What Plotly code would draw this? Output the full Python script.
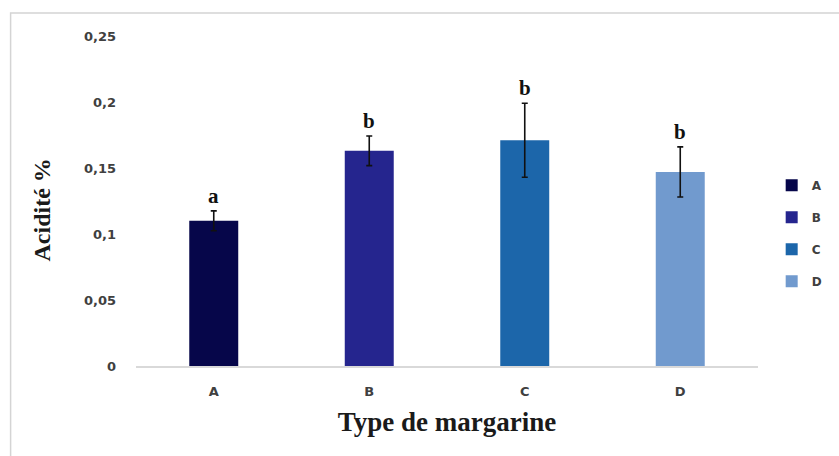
import plotly.graph_objects as go

categories = ["A", "B", "C", "D"]
acidity = [0.110, 0.163, 0.171, 0.147]
errors = [0.0075, 0.0112, 0.028, 0.019]
letters = ["a", "b", "b", "b"]
colors = ["#06064a", "#25258e", "#1c66aa", "#719ace"]
y_ticks = [0, 0.05, 0.1, 0.15, 0.2, 0.25]

fig = go.Figure()
for cat, val, err, col in zip(categories, acidity, errors, colors):
    fig.add_trace(go.Bar(
        x=[cat], y=[val], name=cat, legendgroup=cat,
        marker=dict(color=col, line=dict(width=0)),
        error_y=dict(type="data", array=[err], visible=True,
                     color="#111111", thickness=1.6, width=3),
    ))

for cat, val, err, let in zip(categories, acidity, errors, letters):
    fig.add_annotation(x=cat, y=val + err, text=let, showarrow=False,
                       yanchor="bottom", yshift=1,
                       font=dict(family="Liberation Serif", size=21,
                                 color="#111111", weight="bold"))

# y-axis title placed as a rotated annotation
fig.add_annotation(xref="paper", yref="paper", x=-0.1504, y=0.4727,
                   text="Acidité %", textangle=-90, showarrow=False,
                   xanchor="center", yanchor="middle",
                   font=dict(family="Liberation Serif", size=24,
                             color="#1a1a1a", weight="bold"))

fig.add_shape(type="rect", xref="paper", yref="paper",
              x0=-0.2016, x1=1.3, y0=-0.4, y1=1.0697,
              line=dict(color="#d4d4d4", width=1.5), fillcolor="rgba(0,0,0,0)",
              layer="below")

tickfont = dict(family="DejaVu Sans", size=13, color="#404040", weight="bold")

fig.update_layout(
    width=839, height=456,
    margin=dict(l=136, r=78, t=36, b=90),
    paper_bgcolor="white", plot_bgcolor="white",
    barmode="overlay", bargap=0.685,
    separators=", ",
    showlegend=True,
    legend=dict(x=1.022, xanchor="left", y=0.592, yanchor="top",
                traceorder="grouped", tracegroupgap=13,
                font=dict(family="DejaVu Sans", size=12, color="#404040", weight="bold"),
                itemwidth=30, bgcolor="rgba(0,0,0,0)"),
    xaxis=dict(
        type="category", showgrid=False, zeroline=False,
        showline=True, linecolor="#d9d9d9", linewidth=1.5,
        ticks="", ticklabelstandoff=13, tickfont=tickfont,
        title=dict(text="Type de margarine", standoff=14,
                   font=dict(family="Liberation Serif", size=27,
                             color="#1a1a1a", weight="bold")),
    ),
    yaxis=dict(
        range=[0, 0.25], tickvals=y_ticks, showgrid=False, zeroline=False,
        showline=False, ticks="", ticklabelstandoff=19, tickfont=tickfont,
    ),
)

fig.write_html("out.html")
